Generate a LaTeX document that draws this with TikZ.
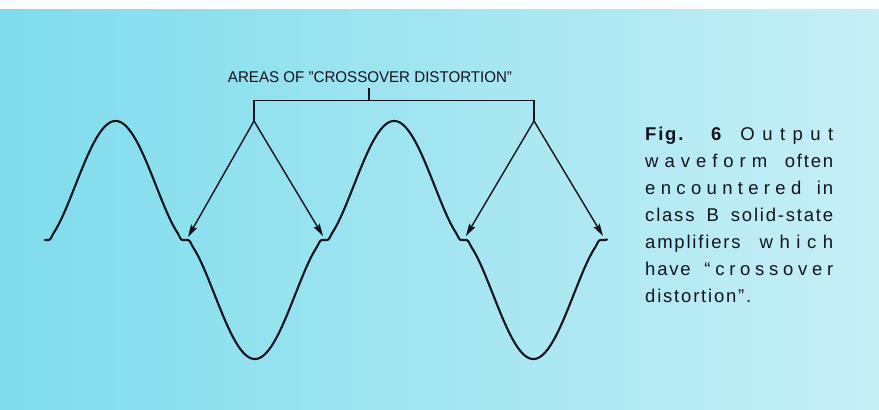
\documentclass[tikz,border=0pt]{standalone}
\usepackage{graphicx}
\usepackage{fontspec}
\setmainfont{Liberation Sans}
\usetikzlibrary{arrows.meta}
\definecolor{bgL}{RGB}{126,220,236}
\definecolor{bgR}{RGB}{198,239,246}
\definecolor{ink}{RGB}{16,20,30}
\makeatletter
\def\mysp#1#2{\def\my@g{#1}\my@first#2\relax}
\def\my@first#1{#1\my@rest}
\def\my@rest#1{\ifx#1\relax\else\my@g#1\expandafter\my@rest\fi}
\makeatother
\newcommand\trw[1]{\mysp{\hskip 1.8pt\relax}{#1}}
\newcommand\spw[1]{\mysp{\hskip 1.8pt plus 1fil\relax}{#1}}
\newcommand\wg[1]{\hskip 5pt plus #1fil\relax}
\tikzset{
  wave/.style={draw=ink, line width=2.1pt, line cap=round, line join=round},
  brk/.style={draw=ink, line width=1.4pt},
  pointer/.style={draw=ink, line width=1.4pt, -{Stealth[length=12.5pt,width=7pt,inset=2pt]}},
  capline/.style={inner sep=0pt, anchor=base west, text=ink, font=\fontsize{18.5}{22}\selectfont},
  declare function={
    ss(\u)=sin(((\u-46)/278.5)*360);
    qq(\v)=(\v/0.12)*(\v/0.12);
    hh(\w)=\w*pow(abs(\w)+0.0001,0.6)*(1-exp(-min(qq(\w)*qq(\w),15)));
  }
}
\begin{document}
\begin{tikzpicture}[x=1pt,y=-1pt]
\useasboundingbox (0,0) rectangle (879,410);
\fill[left color=bgL, right color=bgR] (0,0) rectangle (879,410);
\fill[white!92!bgR] (0,0) rectangle (879,9);

% waveform
\draw[wave] plot[domain=45:607, samples=600, variable=\t] (\t, {240 - 119*hh(ss(\t))});

% label and bracket
\node[inner sep=0pt, text=ink] (lab) at (370,77)
  {\resizebox*{284pt}{11pt}{AREAS OF "CROSSOVER DISTORTION"}};
\coordinate (tk) at (369,88);
\coordinate (tkb) at (369,100.7);
\coordinate (b1) at (254,100.7);
\coordinate (b2) at (534,100.7);
\coordinate (f1) at (254,121);
\coordinate (f2) at (534,121);
\coordinate (a1) at (188,237);
\coordinate (a2) at (323,236);
\coordinate (a3) at (466,236);
\coordinate (a4) at (603,236);
\draw[brk] (tk) -- (tkb);
\draw[brk] (f1) -- (b1) -- (b2) -- (f2);
\draw[pointer] (f1) -- (a1);
\draw[pointer] (f1) -- (a2);
\draw[pointer] (f2) -- (a3);
\draw[pointer] (f2) -- (a4);

% caption
\node[capline] (cap1) at (645,140.0) {\hbox to 188pt{\textbf{\trw{Fig.}}\wg{4}\textbf{6}\wg{2.5}\spw{Output}}};
\node[capline] (cap2) at (645,167.1) {\hbox to 188pt{\spw{waveform}\wg{3}\trw{often}}};
\node[capline] (cap3) at (645,194.2) {\hbox to 188pt{\spw{encountered}\wg{3}\trw{in}}};
\node[capline] (cap4) at (645,221.3) {\hbox to 188pt{\trw{class}\wg{1}\trw{B}\wg{1}\trw{solid-state}}};
\node[capline] (cap5) at (645,248.4) {\hbox to 188pt{\trw{amplifiers}\wg{3}\spw{which}}};
\node[capline] (cap6) at (645,275.6) {\hbox to 188pt{\trw{have}\wg{3}\spw{“crossover}}};
\node[capline] (cap7) at (645,302.7) {\trw{distortion”.}};
\end{tikzpicture}
\end{document}
